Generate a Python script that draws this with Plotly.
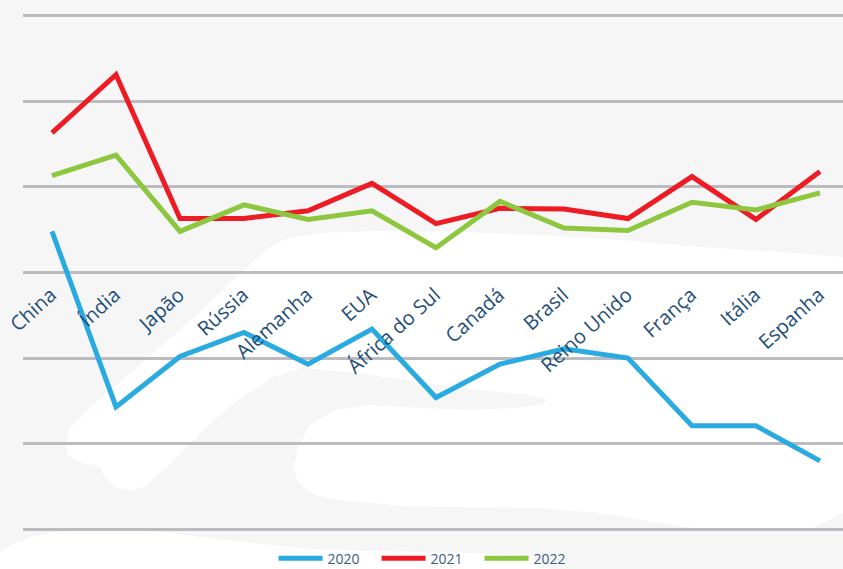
import plotly.graph_objects as go

categories = ["China", "Índia", "Japão", "Rússia", "Alemanha", "EUA", "África do Sul",
              "Canadá", "Brasil", "Reino Unido", "França", "Itália", "Espanha"]
y2020 = [0.48, -1.57, -0.98, -0.70, -1.07, -0.66, -1.46, -1.07, -0.89, -1.00, -1.79, -1.79, -2.20]
y2021 = [1.63, 2.31, 0.63, 0.63, 0.72, 1.04, 0.57, 0.75, 0.74, 0.63, 1.12, 0.62, 1.18]
y2022 = [1.13, 1.37, 0.48, 0.79, 0.62, 0.72, 0.29, 0.83, 0.52, 0.49, 0.82, 0.73, 0.93]
series_names = ["2020", "2021", "2022"]
series_colors = ["#29abe2", "#ed1c24", "#8dc63f"]

W, H = 843, 569
ML, MR, MT, MB = 23, 0, 7, 31
PW, PH = W - ML - MR, H - MT - MB


def to_paper(pts):
    out = []
    for i, (x, y) in enumerate(pts):
        xp = (x - ML) / PW
        yp = (H - MB - y) / PH
        out.append(("M" if i == 0 else "L") + f"{xp:.4f},{yp:.4f}")
    return " ".join(out) + " Z"


blob_main = [(843, 257), (780, 252), (700, 247), (620, 240), (538, 235), (460, 232), (376, 231),
             (320, 233), (288, 238), (268, 248), (250, 265), (231, 282), (188, 323), (134, 370),
             (91, 407), (70, 428), (66, 445), (68, 456), (81, 463), (100, 466), (105, 477),
             (116, 487), (130, 491), (146, 486), (160, 473), (172, 463), (204, 430), (237, 400),
             (274, 377), (301, 368), (350, 372), (420, 382), (480, 390), (530, 395), (548, 400),
             (540, 405), (515, 408), (470, 410), (420, 408), (370, 405), (335, 410), (310, 425),
             (298, 447), (294, 467), (298, 482), (310, 493), (330, 499), (403, 506), (538, 508),
             (600, 513), (683, 527), (720, 529), (810, 529), (830, 520), (843, 513)]
blob_bottom = [(0, 552), (15, 543), (32, 537), (55, 532), (81, 530), (120, 530), (161, 532),
               (200, 537), (242, 542), (280, 546), (323, 550), (380, 551), (430, 552), (480, 553),
               (511, 555), (530, 558), (545, 565), (550, 569), (0, 569)]

fig = go.Figure()
for name, vals, col in zip(series_names, [y2020, y2021, y2022], series_colors):
    fig.add_trace(go.Scatter(x=categories, y=vals, mode="lines", name=name,
                             line=dict(color=col, width=5), cliponaxis=False))

shapes = []
for blob in (blob_main, blob_bottom):
    shapes.append(dict(type="path", xref="paper", yref="paper", path=to_paper(blob),
                       fillcolor="#ffffff", line=dict(width=0), layer="below"))

fig.update_layout(
    width=W, height=H,
    margin=dict(l=ML, r=MR, t=MT, b=MB, pad=0, autoexpand=False),
    paper_bgcolor="#f6f6f6",
    plot_bgcolor="rgba(0,0,0,0)",
    shapes=shapes,
    xaxis=dict(
        type="category", range=[-0.453, 12.36], anchor="free", position=0.5,
        showgrid=False, showline=False, zeroline=False, ticks="",
        tickangle=-42, tickfont=dict(family="Open Sans", size=20, color="#1f4e79"),
        ticklabelstandoff=6, ticklabelshift=-1,
    ),
    yaxis=dict(
        range=[-3.1, 3.1], tickvals=[-3, -2, -1, 0, 1, 2, 3], showticklabels=False,
        showgrid=True, gridcolor="#bcbcc0", gridwidth=3, zeroline=False, ticks="",
    ),
    showlegend=True,
    legend=dict(orientation="h", x=0.494, xanchor="center", y=-0.039, yanchor="middle",
                font=dict(family="Open Sans", size=14, color="#3d5a80"),
                itemwidth=44, entrywidth=44, entrywidthmode="pixels",
                bgcolor="rgba(0,0,0,0)"),
)

fig.write_html("out.html", config={"displayModeBar": False},
               post_script="document.body.style.margin='0';document.body.style.padding='0';")
